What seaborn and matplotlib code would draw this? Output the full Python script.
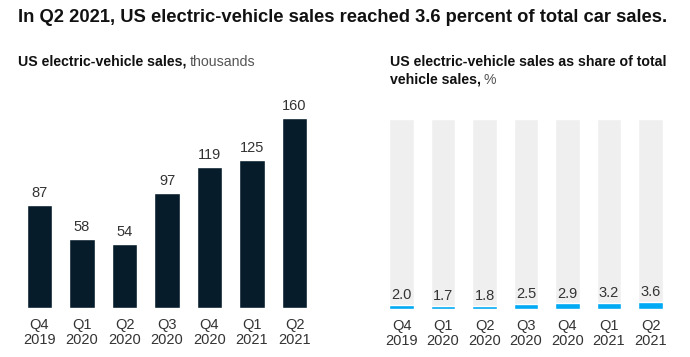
import matplotlib.pyplot as plt
import numpy as np
import pandas as pd
import seaborn as sb

quarters = ["Q4\n2019", "Q1\n2020", "Q2\n2020", "Q3\n2020", "Q4\n2020", "Q1\n2021", "Q2\n2021"]
ev_sales = [87, 58, 54, 97, 119, 125, 160]
ev_share = [2.0, 1.7, 1.8, 2.5, 2.9, 3.2, 3.6]
share_total = [100] * 7

navy = "#061c2b"
blue = "#00a9f4"
grey = "#efefef"
text_col = "#333333"

sb.set_style("white")
plt.rcParams["font.family"] = ["Liberation Sans", "DejaVu Sans"]

fig = plt.figure(figsize=(6.9, 3.57), dpi=100)
W, H = 690, 357


def px_axes(x0, y0, x1, y1):
    # pixel box (top-left origin) -> figure axes
    return fig.add_axes([x0 / W, 1 - y1 / H, (x1 - x0) / W, (y1 - y0) / H])


df = pd.DataFrame({"q": quarters, "sales": ev_sales, "share": ev_share, "total": share_total})

# left panel: sales in thousands
ax1 = px_axes(18.25, 100, 315.75, 308)
sb.barplot(data=df, x="q", y="sales", color=navy, width=0.59, saturation=1, ax=ax1)
ax1.set_ylim(0, 208 / 1.1875)
for i, v in enumerate(ev_sales):
    ax1.text(i, v + 4, f"{v}", ha="center", va="bottom", fontsize=10.5, color=text_col)

# right panel: share of total sales
ax2 = px_axes(380.75, 100, 671.25, 309)
sb.barplot(data=df, x="q", y="total", color=grey, width=0.6, saturation=1, ax=ax2)
sb.barplot(data=df, x="q", y="share", color=blue, width=0.6, saturation=1, ax=ax2)
ax2.set_ylim(0, 209 / 1.9)
for i, v in enumerate(ev_share):
    ax2.text(i, v + 1.5, f"{v:.1f}", ha="center", va="bottom", fontsize=10.5, color=text_col)

for ax in (ax1, ax2):
    sb.despine(ax=ax, left=True, bottom=True)
    ax.set_yticks([])
    ax.set_xlabel("")
    ax.set_ylabel("")
    ax.tick_params(axis="x", length=0, pad=7, labelsize=10.5, labelcolor=text_col)
    for lbl in ax.get_xticklabels():
        lbl.set_linespacing(1.15)

fig.text(18 / W, 1 - 18 / H, "In Q2 2021, US electric-vehicle sales reached 3.6 percent of total car sales.",
         fontsize=13.2, fontweight="bold", color="#111111", va="center", ha="left")

t = fig.text(18 / W, 1 - 62 / H, "US electric-vehicle sales,", fontsize=10.2, fontweight="bold",
             color="#111111", va="center", ha="left")
fig.canvas.draw()
bb = t.get_window_extent()
fig.text(bb.x1 / W + 3 / W, 1 - 62 / H, "thousands", fontsize=10.2, color="#555555", va="center", ha="left")

fig.text(390 / W, 1 - 62 / H, "US electric-vehicle sales as share of total", fontsize=10.2, fontweight="bold",
         color="#111111", va="center", ha="left")
t2 = fig.text(390 / W, 1 - 80 / H, "vehicle sales,", fontsize=10.2, fontweight="bold",
              color="#111111", va="center", ha="left")
fig.canvas.draw()
bb2 = t2.get_window_extent()
fig.text(bb2.x1 / W + 3 / W, 1 - 80 / H, "%", fontsize=10.2, color="#555555", va="center", ha="left")

fig.savefig("out.png", dpi=100, facecolor="white")
